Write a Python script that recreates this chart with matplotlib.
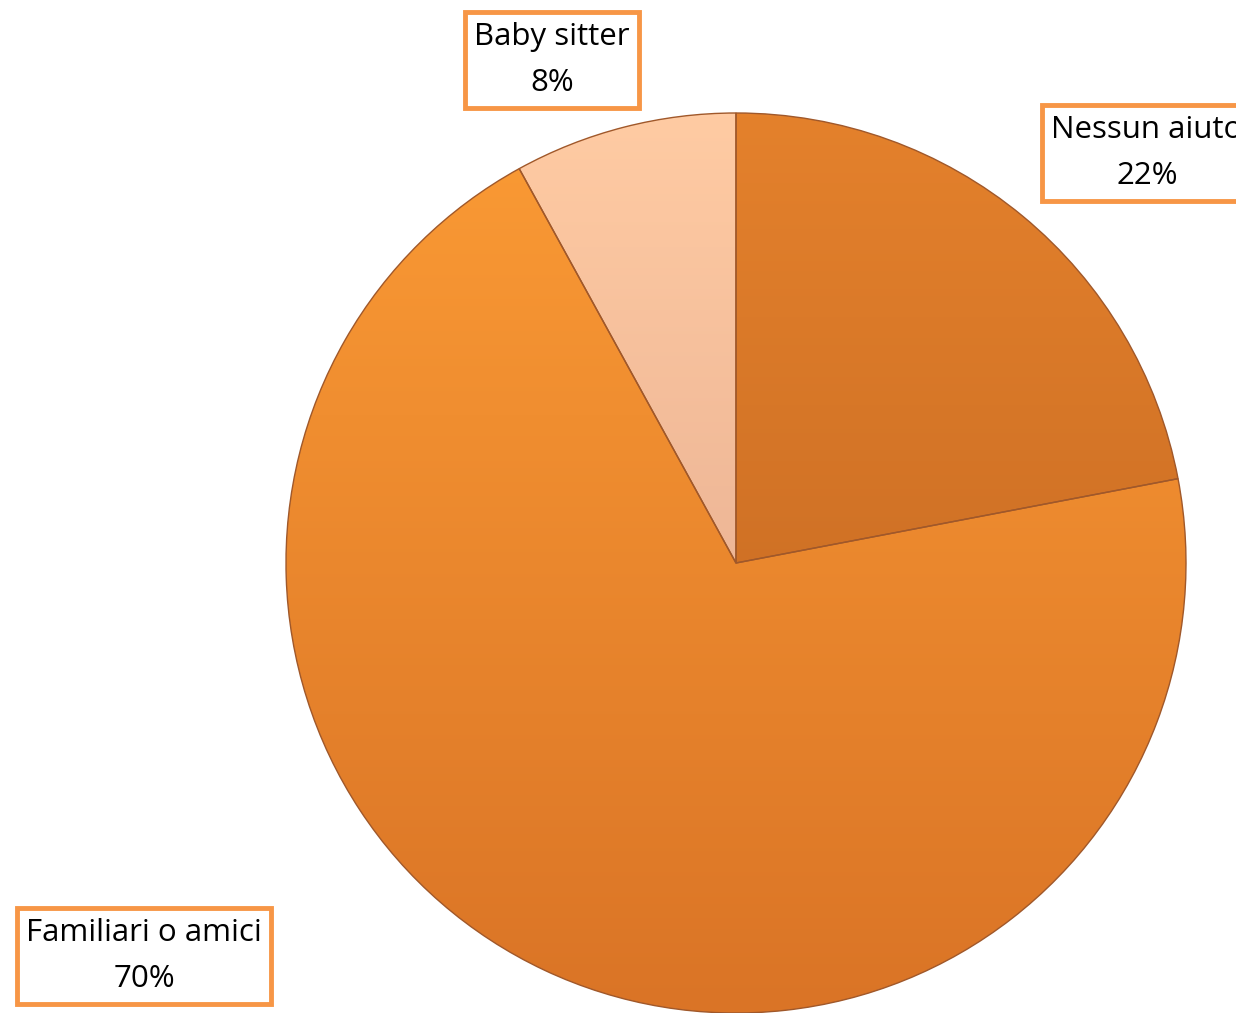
import numpy as np
import matplotlib
matplotlib.use("Agg")
import matplotlib.pyplot as plt
from matplotlib.colors import LinearSegmentedColormap

# ---- data ----
categories = ["Nessun aiuto", "Familiari o amici", "Baby sitter"]
values = [22, 70, 8]
pct_labels = ["22%", "70%", "8%"]

# ---- style ----
top_colors = ["#E4812C", "#FB9B35", "#FFCBA3"]
bot_colors = ["#BC621F", "#DA7426", "#DDA28A"]
label_pos = [(1147, 860), (144, 57), (552, 953)]  # centres in pixel space (y from bottom)

W, H = 1236, 1013
fig = plt.figure(figsize=(W / 100, H / 100), dpi=100)
ax = fig.add_axes([0, 0, 1, 1])

cx, cy, r = 736, 450, 450
wedges, _ = ax.pie(values, startangle=90, counterclock=False, center=(cx, cy),
                   radius=r, frame=True,
                   wedgeprops=dict(linewidth=1.0, edgecolor="#A0582A"))
ax.set_xlim(0, W)
ax.set_ylim(0, H)
ax.set_aspect("equal")
ax.axis("off")

grad = np.linspace(1, 0, 256).reshape(-1, 1)
for w, tc, bc in zip(wedges, top_colors, bot_colors):
    w.set_facecolor("none")
    cmap = LinearSegmentedColormap.from_list("g", [bc, tc])
    im = ax.imshow(grad, cmap=cmap, extent=(cx - r, cx + r, cy - r, cy + r),
                   aspect="auto", origin="upper", zorder=0.5, vmin=0, vmax=1)
    im.set_clip_path(w)
    w.set_zorder(1)

for (x, y), cat, p in zip(label_pos, categories, pct_labels):
    ax.text(x, y, f"{cat}\n{p}", ha="center", va="center", fontsize=22.5,
            family="Open Sans", linespacing=1.72, color="black", zorder=5,
            bbox=dict(boxstyle="square,pad=0.3", fc="white", ec="#F79646", lw=3.5))

fig.savefig("out.png", dpi=100)
